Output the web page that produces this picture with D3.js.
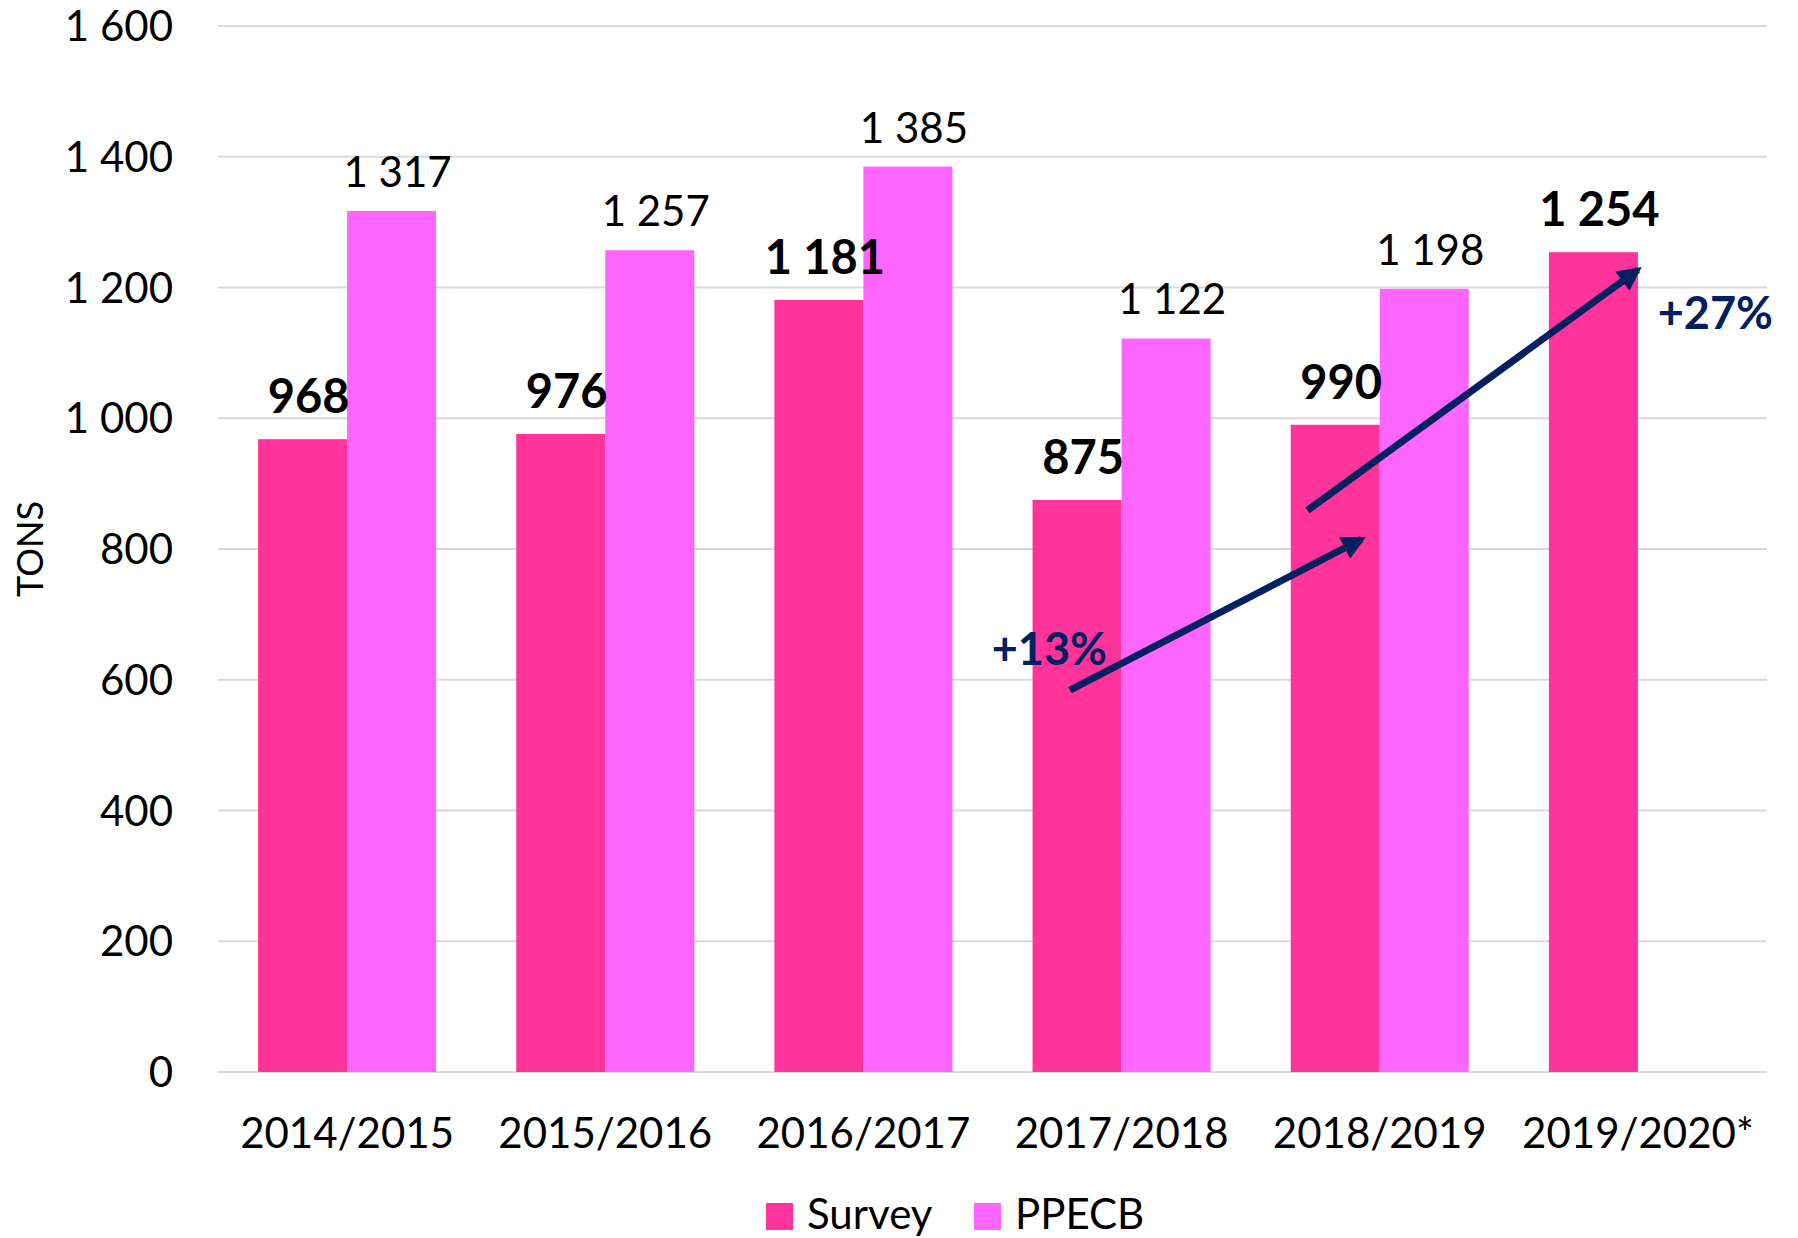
<!DOCTYPE html>
<html>
<head>
<meta charset="utf-8">
<script src="https://cdn.jsdelivr.net/npm/d3@7"></script>
<style>
  body { margin: 0; background: #fff; }
  text { font-family: Lato, "Open Sans", sans-serif; fill: #000; }
</style>
</head>
<body>
<div id="chart"></div>
<script>
/* DATA */
const seasons = ["2014/2015", "2015/2016", "2016/2017", "2017/2018", "2018/2019", "2019/2020*"];
const surveyTons = [968, 976, 1181, 875, 990, 1254];
const ppecbTons = [1317, 1257, 1385, 1122, 1198, null];
const seriesNames = ["Survey", "PPECB"];
const yTicks = [0, 200, 400, 600, 800, 1000, 1200, 1400, 1600];

// growth arrows, x in season index units, y in tons
const growthText = ["+13%", "+27%"];
const arrowStart = [[3.30, 584], [4.22, 859]];
const arrowEnd = [[4.43, 815], [5.50, 1227]];
const growthPos = [[3.22, 623], [5.80, 1137]];

/* CONSTANTS */
const width = 1798;
const height = 1238;
const margin = { top: 26, right: 31, bottom: 166, left: 218 };
const colors = { Survey: "#FF3399", PPECB: "#FF66FF" };
const navy = "#002060";

const fmt = d3.formatLocale({ decimal: ".", thousands: " ", grouping: [3], currency: ["", ""] }).format(",");

const svg = d3.select("#chart")
  .append("svg")
  .attr("width", width)
  .attr("height", height)
  .style("background-color", "#fff");

/* SCALES */
const x0 = d3.scaleBand()
  .domain(seasons)
  .range([margin.left, width - margin.right])
  .padding(0);

const x1 = d3.scaleBand()
  .domain(seriesNames)
  .range([0, x0.bandwidth()])
  .paddingInner(0)
  .paddingOuter(0.45);

const xIdx = d3.scaleLinear()
  .domain([0, seasons.length])
  .range([margin.left, width - margin.right]);

const y = d3.scaleLinear()
  .domain([0, 1600])
  .range([height - margin.bottom, margin.top]);

/* GRID */
svg.append("g")
  .selectAll("line")
  .data(yTicks)
  .join("line")
  .attr("x1", margin.left)
  .attr("x2", width - margin.right)
  .attr("y1", d => y(d))
  .attr("y2", d => y(d))
  .attr("stroke", "#d9d9d9")
  .attr("stroke-width", 2);

/* Y AXIS */
svg.append("g")
  .selectAll("text")
  .data(yTicks)
  .join("text")
  .attr("x", 173)
  .attr("y", d => y(d))
  .attr("dy", "0.36em")
  .attr("text-anchor", "end")
  .style("font-size", "42px")
  .text(d => fmt(d));

svg.append("text")
  .attr("transform", `translate(43, ${(y(0) + y(1600)) / 2}) rotate(-90)`)
  .attr("text-anchor", "middle")
  .style("font-size", "36px")
  .text("TONS");

/* BARS */
const rows = seasons.map((s, i) => ({ season: s, Survey: surveyTons[i], PPECB: ppecbTons[i] }));

const groups = svg.append("g")
  .selectAll("g")
  .data(rows)
  .join("g")
  .attr("transform", d => `translate(${x0(d.season)},0)`);

groups.selectAll("rect")
  .data(d => seriesNames.filter(k => d[k] != null).map(k => ({ key: k, value: d[k] })))
  .join("rect")
  .attr("x", d => x1(d.key))
  .attr("width", x1.bandwidth())
  .attr("y", d => y(d.value))
  .attr("height", d => y(0) - y(d.value))
  .attr("fill", d => colors[d.key]);

groups.selectAll("text.val")
  .data(d => seriesNames.filter(k => d[k] != null).map(k => ({ key: k, value: d[k] })))
  .join("text")
  .attr("class", "val")
  .attr("x", d => x1(d.key) + x1.bandwidth() / 2 + 6)
  .attr("y", d => y(d.value) - (d.key === "Survey" ? 26 : 24))
  .attr("text-anchor", "middle")
  .style("font-size", d => d.key === "Survey" ? "47px" : "42px")
  .style("font-weight", d => d.key === "Survey" ? "bold" : "normal")
  .text(d => fmt(d.value));

/* X LABELS */
svg.append("g")
  .selectAll("text")
  .data(seasons)
  .join("text")
  .attr("x", d => x0(d) + x0.bandwidth() / 2)
  .attr("y", 1148)
  .attr("text-anchor", "middle")
  .style("font-size", "42px")
  .text(d => d);

/* ARROWS */
svg.append("defs")
  .append("marker")
  .attr("id", "head")
  .attr("markerUnits", "userSpaceOnUse")
  .attr("viewBox", "0 0 10 10")
  .attr("refX", 8)
  .attr("refY", 5)
  .attr("markerWidth", 28)
  .attr("markerHeight", 24)
  .attr("orient", "auto")
  .append("path")
  .attr("d", "M0,0 L10,5 L0,10 Z")
  .attr("fill", navy);

svg.append("g")
  .selectAll("line")
  .data(arrowStart)
  .join("line")
  .attr("x1", d => xIdx(d[0]))
  .attr("y1", d => y(d[1]))
  .attr("x2", (d, i) => xIdx(arrowEnd[i][0]))
  .attr("y2", (d, i) => y(arrowEnd[i][1]))
  .attr("stroke", navy)
  .attr("stroke-width", 7)
  .attr("marker-end", "url(#head)");

svg.append("g")
  .selectAll("text")
  .data(growthText)
  .join("text")
  .attr("x", (d, i) => xIdx(growthPos[i][0]))
  .attr("y", (d, i) => y(growthPos[i][1]))
  .attr("text-anchor", "middle")
  .style("font-size", "45px")
  .style("font-weight", "bold")
  .style("fill", navy)
  .text(d => d);

/* LEGEND */
const legend = svg.append("g")
  .selectAll("g")
  .data(seriesNames)
  .join("g")
  .attr("transform", (d, i) => `translate(${[766, 974][i]}, 1203)`);

legend.append("rect")
  .attr("width", 27)
  .attr("height", 27)
  .attr("fill", d => colors[d]);

legend.append("text")
  .attr("x", 41)
  .attr("y", 26)
  .style("font-size", "42px")
  .text(d => d);
</script>
</body>
</html>
